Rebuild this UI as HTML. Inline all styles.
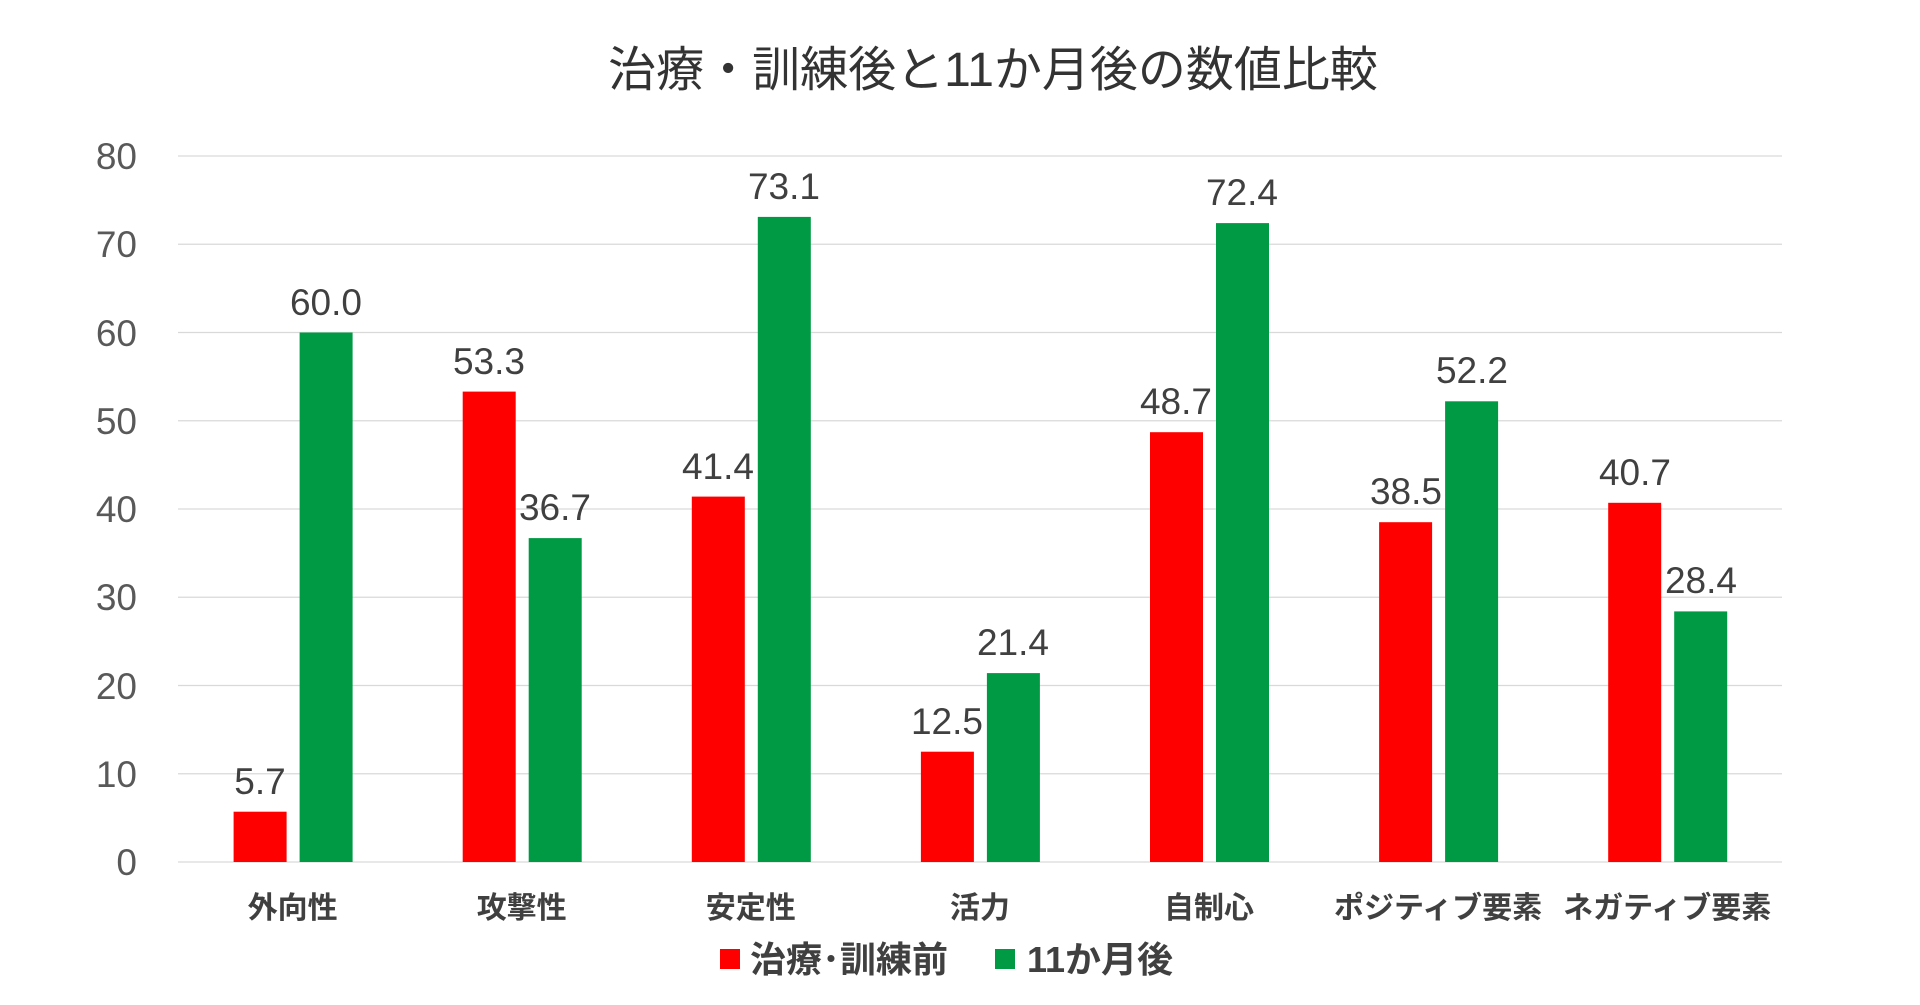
<!DOCTYPE html>
<html><head><meta charset="utf-8"><style>
html,body{margin:0;padding:0;background:#fff;}
svg{display:block;font-family:"Liberation Sans","Noto Sans CJK JP",sans-serif;}
</style></head><body>
<svg width="1920" height="1005" viewBox="0 0 1920 1005" xmlns="http://www.w3.org/2000/svg">
<rect width="1920" height="1005" fill="#fff"/>
<text x="993" y="86" font-size="48" text-anchor="middle" fill="#333">治療・訓練後と11か月後の数値比較</text>
<g stroke="#d9d9d9" stroke-width="1.3">
<line x1="178" x2="1782" y1="156" y2="156"/><line x1="178" x2="1782" y1="244.25" y2="244.25"/>
<line x1="178" x2="1782" y1="332.5" y2="332.5"/><line x1="178" x2="1782" y1="420.75" y2="420.75"/>
<line x1="178" x2="1782" y1="509" y2="509"/><line x1="178" x2="1782" y1="597.25" y2="597.25"/>
<line x1="178" x2="1782" y1="685.5" y2="685.5"/><line x1="178" x2="1782" y1="773.75" y2="773.75"/>
<line x1="178" x2="1782" y1="862" y2="862"/>
</g>
<g font-size="37" fill="#595959" text-anchor="end">
<text x="137" y="169">80</text><text x="137" y="257">70</text><text x="137" y="346">60</text>
<text x="137" y="434">50</text><text x="137" y="522">40</text><text x="137" y="610">30</text>
<text x="137" y="699">20</text><text x="137" y="787">10</text><text x="137" y="875">0</text>
</g>
<g fill="#ff0000">
<rect x="233.6" y="811.7" width="53" height="50.3"/>
<rect x="462.7" y="391.6" width="53" height="470.4"/>
<rect x="691.8" y="496.6" width="53" height="365.4"/>
<rect x="920.9" y="751.7" width="53" height="110.3"/>
<rect x="1150" y="432.2" width="53" height="429.8"/>
<rect x="1379.1" y="522.2" width="53" height="339.8"/>
<rect x="1608.2" y="502.8" width="53" height="359.2"/>
</g>
<g fill="#009a44">
<rect x="299.6" y="332.5" width="53" height="529.5"/>
<rect x="528.7" y="538.1" width="53" height="323.9"/>
<rect x="757.8" y="216.9" width="53" height="645.1"/>
<rect x="986.9" y="673.1" width="53" height="188.9"/>
<rect x="1216" y="223.1" width="53" height="638.9"/>
<rect x="1445.1" y="401.3" width="53" height="460.7"/>
<rect x="1674.2" y="611.4" width="53" height="250.6"/>
</g>
<g font-size="37" fill="#404040" text-anchor="middle">
<text x="260" y="794">5.7</text>
<text x="489" y="374">53.3</text>
<text x="718" y="479">41.4</text>
<text x="947" y="734">12.5</text>
<text x="1176" y="414">48.7</text>
<text x="1406" y="504">38.5</text>
<text x="1635" y="485">40.7</text>
<text x="326" y="315">60.0</text>
<text x="555" y="520">36.7</text>
<text x="784" y="199">73.1</text>
<text x="1013" y="655">21.4</text>
<text x="1242" y="205">72.4</text>
<text x="1472" y="383">52.2</text>
<text x="1701" y="593">28.4</text>
</g>
<g font-size="30" font-weight="bold" fill="#404040" text-anchor="middle">
<text x="292.6" y="918">外向性</text>
<text x="521.7" y="918">攻撃性</text>
<text x="750.8" y="918">安定性</text>
<text x="979.9" y="918">活力</text>
<text x="1209" y="918">自制心</text>
<text x="1438.1" y="918">ポジティブ要素</text>
<text x="1667.2" y="918">ネガティブ要素</text>
</g>
<rect x="720" y="949" width="20" height="20" fill="#ff0000"/>
<text x="750" y="972" font-size="36" font-weight="bold" fill="#404040">治療･訓練前</text>
<rect x="995" y="949" width="20" height="20" fill="#009a44"/>
<text x="1027" y="972" font-size="36" font-weight="bold" fill="#404040">11か月後</text>
</svg>
</body></html>
